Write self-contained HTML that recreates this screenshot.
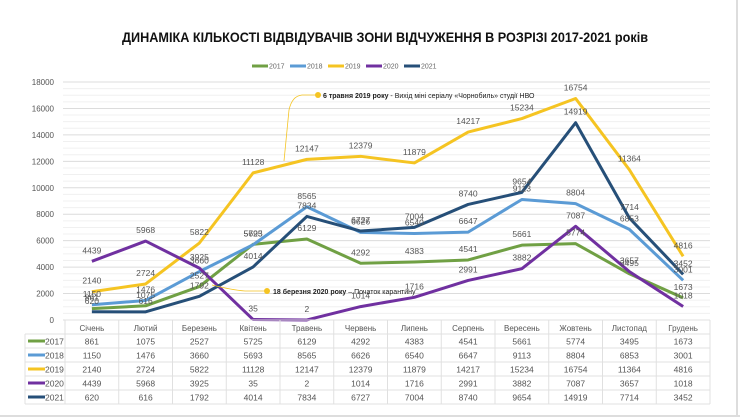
<!DOCTYPE html>
<html><head><meta charset="utf-8"><style>
body{margin:0;background:#fff;}
svg{display:block;font-family:"Liberation Sans","DejaVu Sans",sans-serif;}
</style></head><body>
<svg id="s" width="740" height="418" xmlns="http://www.w3.org/2000/svg"></svg>
<script>
const s=document.getElementById('s');
const D={
"2017":[861,1075,2527,5725,6129,4292,4383,4541,5661,5774,3495,1673],
"2018":[1150,1476,3660,5693,8565,6626,6540,6647,9113,8804,6853,3001],
"2019":[2140,2724,5822,11128,12147,12379,11879,14217,15234,16754,11364,4816],
"2020":[4439,5968,3925,35,2,1014,1716,2991,3882,7087,3657,1018],
"2021":[620,616,1792,4014,7834,6727,7004,8740,9654,14919,7714,3452]};
const C={"2017":"#70a044","2018":"#5b9bd5","2019":"#f5c422","2020":"#7030a0","2021":"#264f78"};
const M=["Січень","Лютий","Березень","Квітень","Травень","Червень","Липень","Серпень","Вересень","Жовтень","Листопад","Грудень"];
const X=i=>65+53.75*(i+0.5), Y=v=>320-v*238/18000;
let h='';
h+='<rect x="0" y="0" width="740" height="418" fill="#fff"/>';
h+='<line x1="737" y1="0" x2="737" y2="416" stroke="#ddd" stroke-width="2"/><line x1="0" y1="416" x2="740" y2="416" stroke="#ddd" stroke-width="2"/>';
h+='<text x="122" y="42" font-size="13.5" font-weight="bold" fill="#111" textLength="526" lengthAdjust="spacingAndGlyphs">ДИНАМІКА КІЛЬКОСТІ ВІДВІДУВАЧІВ ЗОНИ ВІДЧУЖЕННЯ В РОЗРІЗІ 2017-2021 років</text>';
let lx=252;
for(const k in C){h+=`<line x1="${lx}" y1="66" x2="${lx+16}" y2="66" stroke="${C[k]}" stroke-width="3"/><text x="${lx+17}" y="68.5" font-size="7" fill="#666">${k}</text>`;lx+=38;}
for(let v=0;v<=18000;v+=500){const y=Y(v);h+=`<line x1="63" y1="${y}" x2="710" y2="${y}" stroke="${v%2000?'#f0f0f0':'#dcdcdc'}" stroke-width="1"/>`;}
for(let v=0;v<=18000;v+=2000)h+=`<text x="54" y="${Y(v)+3}" text-anchor="end" font-size="8" fill="#555">${v}</text>`;
for(const k in D){h+=`<polyline fill="none" stroke="${C[k]}" stroke-width="3" stroke-linejoin="round" points="${D[k].map((v,i)=>X(i)+','+Y(v)).join(' ')}"/>`;}
for(const k in D){D[k].forEach((v,i)=>{h+=`<text x="${X(i)}" y="${Y(v)-8}" text-anchor="middle" font-size="8.5" fill="#555">${v}</text>`;});}
h+=`<path d="M318 95 L302 95 Q292 96 289 110 L284 161" fill="none" stroke="#f5c422" stroke-width="0.8"/><circle cx="318" cy="95" r="3" fill="#f5c422"/>`;
h+=`<text x="323" y="98" font-size="7" fill="#222"><tspan font-weight="bold">6 травня 2019 року</tspan> - Вихід міні серіалу «Чорнобиль» студії НВО</text>`;
h+=`<path d="M267 291 L245 291 Q232 290 212 285" fill="none" stroke="#f5c422" stroke-width="0.8"/><circle cx="267" cy="291" r="3" fill="#f5c422"/>`;
h+=`<text x="273" y="294" font-size="7" fill="#222"><tspan font-weight="bold">18 березня 2020 року</tspan> – Початок карантину</text>`;
h+='<g stroke="#e0e0e0" stroke-width="1">';
h+='<line x1="65" y1="320" x2="710" y2="320"/>';
for(let r=0;r<=5;r++)h+=`<line x1="25" y1="${334+r*14}" x2="710" y2="${334+r*14}"/>`;
h+='<line x1="25" y1="334" x2="25" y2="404"/>';
for(let i=0;i<=12;i++)h+=`<line x1="${65+53.75*i}" y1="320" x2="${65+53.75*i}" y2="404"/>`;
h+='</g>';
M.forEach((m,i)=>h+=`<text x="${X(i)}" y="331" text-anchor="middle" font-size="8" fill="#555">${m}</text>`);
let r=0;for(const k in D){const y=334+r*14;h+=`<line x1="28" y1="${y+7}" x2="45" y2="${y+7}" stroke="${C[k]}" stroke-width="3"/><text x="45" y="${y+10.5}" font-size="8.5" fill="#555">${k}</text>`;
D[k].forEach((v,i)=>h+=`<text x="${X(i)}" y="${y+10.5}" text-anchor="middle" font-size="8.5" fill="#555">${v}</text>`);r++;}
s.innerHTML=h;
</script>
</body></html>
